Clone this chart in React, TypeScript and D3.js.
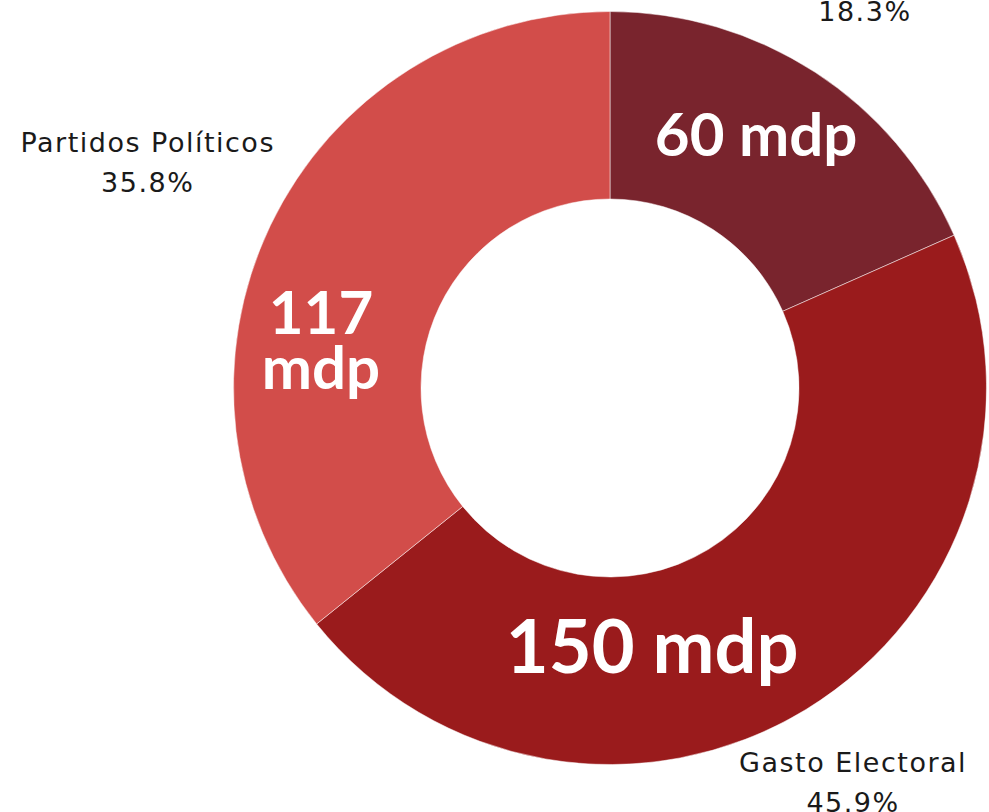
import React, { useEffect, useRef } from "react";
import * as d3 from "d3";

const categories = ["", "Gasto Electoral", "Partidos Políticos"];
const values = [60, 150, 117];
const valueLabels = [["60 mdp"], ["150 mdp"], ["117", "mdp"]];
const colors = ["#79242d", "#9a1b1c", "#d24d4a"];

// layout (not data)
const W = 989;
const H = 812;
const CX = 610;
const CY = 388;
const R_OUT = 376.5;
const R_IN = 189;
const LABEL_R = 420;
const valueFont = [60, 74, 60];
const valueOffsets = [[-8, -17], [-105, 17], [-34, 74]];

export default function App() {
  const ref = useRef<SVGSVGElement>(null);
  useEffect(() => {
    const svg = d3.select(ref.current);
    svg.selectAll("*").remove();
    const total = d3.sum(values);
    const pie = d3.pie<number>().sort(null).value((d) => d);
    const arcs = pie(values);
    const arc = d3.arc<d3.PieArcDatum<number>>().innerRadius(R_IN).outerRadius(R_OUT);
    const g = svg.append("g").attr("transform", `translate(${CX},${CY})`);
    g.selectAll("path.slice")
      .data(arcs)
      .join("path")
      .attr("class", "slice")
      .attr("d", arc as any)
      .attr("fill", (_, i) => colors[i])
      .attr("stroke", "#ffffff")
      .attr("stroke-width", 0.5);

    // value labels
    arcs.forEach((a, i) => {
      const [cx, cy] = arc.centroid(a);
      const fs = valueFont[i];
      const lines = valueLabels[i];
      const lh = fs * 0.92;
      const t = g
        .append("text")
        .attr("text-anchor", "middle")
        .attr("fill", "#ffffff")
        .attr("font-family", "Lato, sans-serif")
        .attr("font-weight", 700)
        .attr("font-size", fs);
      lines.forEach((ln, j) => {
        t.append("tspan")
          .attr("x", cx + valueOffsets[i][0])
          .attr("y", cy + valueOffsets[i][1] + (j - (lines.length - 1) / 2) * lh + fs * 0.36)
          .text(ln);
      });
    });

    // outside labels
    const fsL = 27;
    const lineH = 40;
    arcs.forEach((a, i) => {
      const mid = (a.startAngle + a.endAngle) / 2;
      const dx = Math.sin(mid);
      const dy = -Math.cos(mid);
      const pct = d3.format(".1f")((values[i] / total) * 100) + "%";
      const t = g
        .append("text")
        .attr("text-anchor", "middle")
        .attr("fill", "#1a1a1a")
        .attr("font-family", "'DejaVu Sans', sans-serif")
        .attr("letter-spacing", 1.5)
        .attr("font-size", fsL);
      const l1 = t.append("tspan").text(categories[i]);
      const l2 = t.append("tspan").text(pct);
      const w = Math.max(
        (l1.node() as SVGTSpanElement).getComputedTextLength(),
        (l2.node() as SVGTSpanElement).getComputedTextLength()
      );
      const hw = w / 2;
      const hh = lineH;
      const ext = Math.min(hw / Math.max(Math.abs(dx), 1e-6), hh / Math.max(Math.abs(dy), 1e-6));
      const bx = dx * (LABEL_R + ext);
      const by = dy * (LABEL_R + ext);
      l1.attr("x", bx).attr("y", by - lineH / 2 + fsL * 0.2);
      l2.attr("x", bx).attr("y", by + lineH / 2 + fsL * 0.2);
    });
  }, []);
  return (
    <svg
      ref={ref}
      width={W}
      height={H}
      style={{ position: "absolute", left: 0, top: 0, background: "#ffffff" }}
    />
  );
}
